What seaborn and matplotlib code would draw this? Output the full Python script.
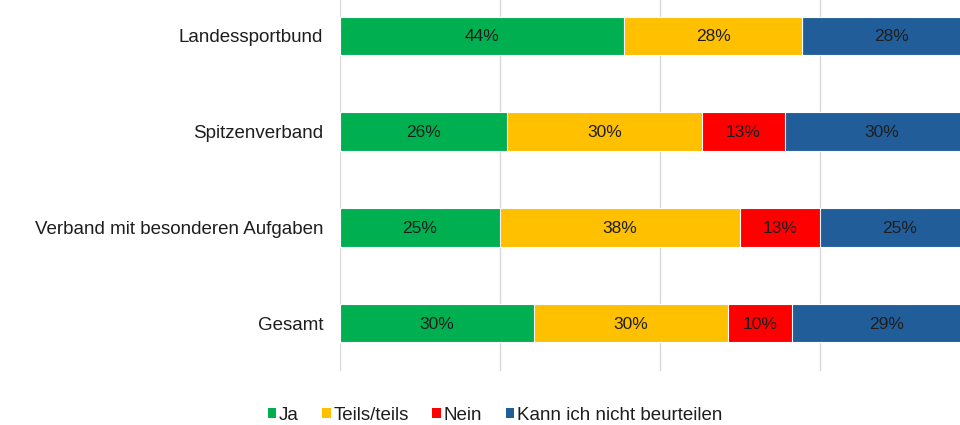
import numpy as np
import pandas as pd
import matplotlib
matplotlib.use("Agg")
import matplotlib.pyplot as plt
from matplotlib.patches import Patch
import seaborn as sns

# data (shares in %)
groups = ["Landessportbund", "Spitzenverband", "Verband mit besonderen Aufgaben", "Gesamt"]
answers = ["Ja", "Teils/teils", "Nein", "Kann ich nicht beurteilen"]
ja = [44.4, 26.1, 25.0, 30.3]
teils = [27.8, 30.4, 37.5, 30.3]
nein = [0.0, 13.0, 12.5, 10.1]
kann_nicht = [27.8, 30.4, 25.0, 29.3]
colors = ["#00B050", "#FFC000", "#FF0000", "#215E99"]

sns.set_theme(style="white")
plt.rcParams["font.family"] = ["Liberation Sans", "DejaVu Sans"]

series = [ja, teils, nein, kann_nicht]
cum = np.cumsum(np.array(series), axis=0)

fig = plt.figure(figsize=(9.6, 4.25), dpi=100)
ax = fig.add_axes([340 / 960, 54 / 425, 620 / 960, 383 / 425])

# stacked bars: draw cumulative totals from the longest down
for i in range(len(answers) - 1, -1, -1):
    df = pd.DataFrame({"group": groups, "value": cum[i]})
    sns.barplot(data=df, x="value", y="group", orient="y", color=colors[i],
                saturation=1, width=0.4, edgecolor="white", linewidth=0.8,
                ax=ax, zorder=3)

# segment labels
for i, vals in enumerate(series):
    for j, v in enumerate(vals):
        if v <= 0:
            continue
        xc = cum[i][j] - v / 2
        ax.text(xc, j + 0.01, f"{int(v + 0.5)}%", ha="center", va="center",
                fontsize=12.5, color="#1E1E1E", zorder=4)

ax.set_xticks([0, 25, 50, 75, 100])
ax.set_xticklabels([])
ax.set_xlim(0, 620 / 640 * 100)
ax.grid(axis="x", color="#D9D9D9", linewidth=1, zorder=0)
ax.set_axisbelow(True)
for s in ax.spines.values():
    s.set_visible(False)
ax.set_xlabel("")
ax.set_ylabel("")
ax.tick_params(axis="y", length=0, pad=12, labelsize=13.5, labelcolor="#1E1E1E")
ax.tick_params(axis="x", length=0)

handles = [Patch(facecolor=c, edgecolor="none") for c in colors]
fig.legend(handles, answers, loc="center", bbox_to_anchor=(495 / 960, 1 - 415 / 425),
           ncol=4, frameon=False, fontsize=13.5, handlelength=0.45, handleheight=0.45,
           handletextpad=0.15, columnspacing=1.25, labelcolor="#1E1E1E")

fig.savefig("out.png", dpi=100)
